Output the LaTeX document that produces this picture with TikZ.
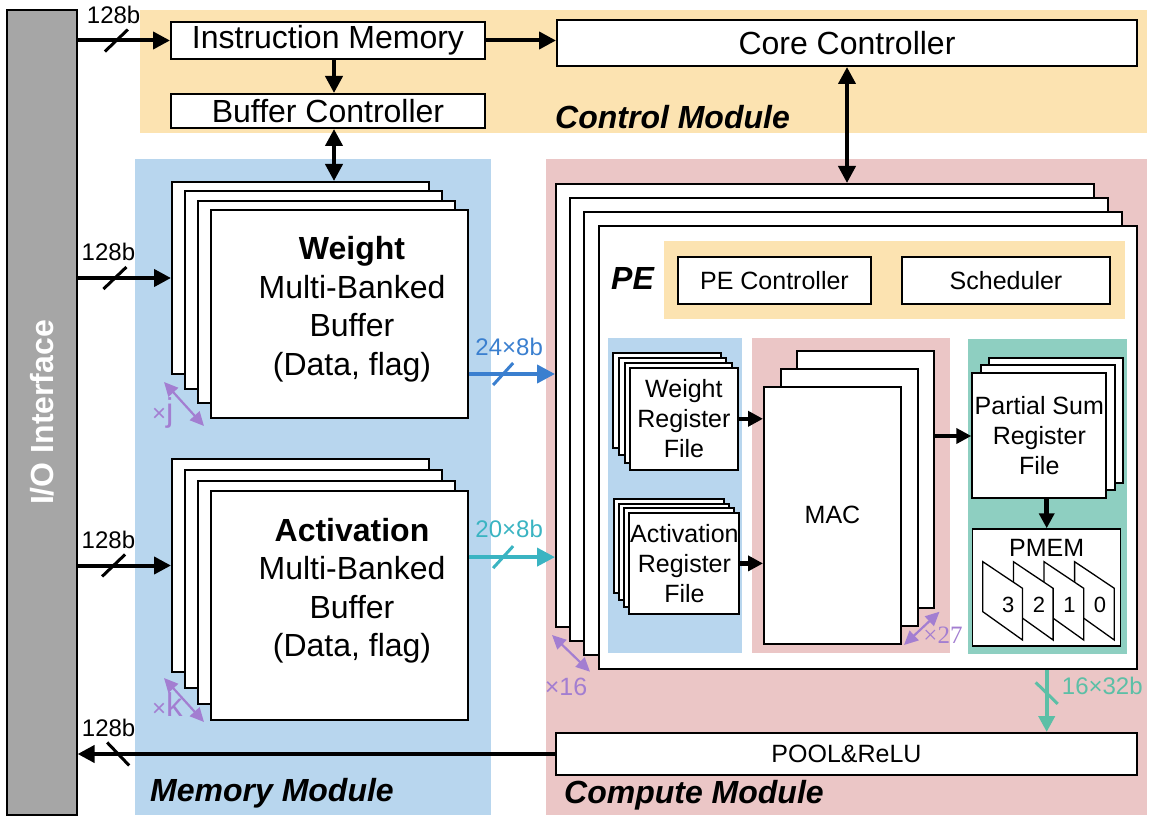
\documentclass[tikz,border=0pt]{standalone}
\usepackage{fontspec}
\setmainfont{Liberation Sans}
\newfontfamily\timesfont{Liberation Serif}
\usetikzlibrary{arrows.meta}

\definecolor{ctrlbg}{HTML}{FCE3B1}
\definecolor{membg}{HTML}{B8D6EE}
\definecolor{compbg}{HTML}{EBC6C6}
\definecolor{tealbg}{HTML}{8ECFC1}
\definecolor{iogray}{HTML}{A6A6A6}
\definecolor{multpurple}{HTML}{A37ED1}
\definecolor{busblue}{HTML}{3A7FCF}
\definecolor{busteal}{HTML}{3AB4C2}
\definecolor{busgreen}{HTML}{5CBFA6}

\tikzset{
  box/.style={draw, line width=2pt, fill=white, inner sep=0pt},
  bigtext/.style={font=\fontsize{32}{38.5}\selectfont},
  smalltext/.style={font=\fontsize{25}{30}\selectfont},
  modlabel/.style={font=\bfseries\itshape\fontsize{32}{38}\selectfont, inner sep=0pt},
  buslabel/.style={font=\fontsize{24}{28}\selectfont, inner sep=0pt},
  bus/.style={line width=4pt, -{Triangle[length=17pt,width=17pt]}},
  dbus/.style={line width=4pt, {Triangle[length=17pt,width=17pt]}-{Triangle[length=17pt,width=17pt]}},
  ibus/.style={line width=4.5pt, -{Triangle[length=15pt,width=15pt]}},
  slashline/.style={line width=3pt},
  mult/.style={draw=multpurple, line width=2.2pt, {Triangle[length=14pt,width=13pt]}-{Triangle[length=14pt,width=13pt]}},
  multlabel/.style={text=multpurple, font=\fontsize{24}{28}\selectfont, inner sep=0pt}
}

\begin{document}
\begin{tikzpicture}[x=1pt, y=-1pt]
    \useasboundingbox (0,0) rectangle (1156,826);

    % module backgrounds
    \fill[ctrlbg] (140,10) rectangle (1147,133);
    \fill[membg] (135,159) rectangle (491,815);
    \fill[compbg] (546,159) rectangle (1147,815);

    % I/O interface
    \node[draw, line width=1.2pt, fill=iogray, minimum width=70, minimum height=805, inner sep=0pt] (io) at (42,412.5) {};
    \node[rotate=90, text=white, font=\bfseries\fontsize{32}{38}\selectfont] at (io) {I/O Interface};

    % control module
    \node[box, bigtext, minimum width=314, minimum height=37] (im) at (328,40.5) {Instruction Memory};
    \node[box, bigtext, minimum width=314, minimum height=34] (bc) at (328,111) {Buffer Controller};
    \node[box, bigtext, minimum width=580, minimum height=46] (cc) at (847,43) {Core Controller};
    \node[modlabel, anchor=west] at (555,117) {Control Module};

    % memory module
    \foreach \i in {0,...,3}
      \node[box, minimum width=257, minimum height={192+5.2*\i}] (w\i) at ({300.5+12.85*\i},{278+11.9*\i}) {};
    \node[bigtext, align=center] at (352,309) {\textbf{Weight}\\Multi-Banked\\Buffer\\(Data, flag)};
    \foreach \i in {0,...,3}
      \node[box, minimum width=257, minimum height={213+5.3*\i}] (a\i) at ({300.5+12.85*\i},{565.5+13.4*\i}) {};
    \node[bigtext, align=center] at (352,590.5) {\textbf{Activation}\\Multi-Banked\\Buffer\\(Data, flag)};
    \node[modlabel, anchor=west] at (150,793) {Memory Module};

    % compute module: PE array
    \foreach \i in {0,...,3}
      \node[box, minimum width=538, minimum height=443] (pe\i) at ({825+14.2*\i},{405.5+14.1*\i}) {};
    \fill[ctrlbg] (664,241) rectangle (1125,319);
    \node[modlabel] at (632.5,278) {PE};
    \node[box, smalltext, minimum width=193, minimum height=47] (pec) at (774.5,280.5) {PE Controller};
    \node[box, smalltext, minimum width=208, minimum height=47] (sch) at (1006,280.5) {Scheduler};
    \fill[membg] (608,338) rectangle (741.6,653);
    \fill[compbg] (752,338) rectangle (950,653);
    \fill[tealbg] (968,339) rectangle (1127,654);

    % register files
    \foreach \i in {0,1,2}
      \node[box, minimum width=107.5, minimum height={95+2.4*\i}] (wr\i) at ({667.1+5.6*\i},{400.5+6.1*\i}) {};
    \node[box, smalltext, align=center, minimum width=107.5, minimum height=102.2] (wr3) at (683.9,418.8) {Weight\\Register\\File};
    \foreach \i in {0,1,2}
      \node[box, minimum width=110, minimum height={94+2.6*\i}] (ar\i) at ({668.5+5.3*\i},{546.3+5.7*\i}) {};
    \node[box, smalltext, align=center, minimum width=110, minimum height=101.8] (ar3) at (684.4,563.4) {Activation\\Register\\File};

    % MAC
    \foreach \i in {0,1}
      \node[box, minimum width=137, minimum height=257] (mac\i) at ({865.5-16.5*\i},{479.2+18*\i}) {};
    \node[box, smalltext, minimum width=137, minimum height=257] (mac2) at (832.5,515.2) {MAC};

    % partial sums
    \foreach \i in {0,1}
      \node[box, minimum width=134, minimum height=125] (ps\i) at ({1056.3-8.5*\i},{420.2+7.6*\i}) {};
    \node[box, smalltext, align=center, minimum width=134, minimum height=125] (ps2) at (1039.3,435.4) {Partial Sum\\Register\\File};

    % PMEM
    \node[box, line width=1.5pt, minimum width=148, minimum height=117] (pmem) at (1046.7,587.5) {};
    \node[smalltext] at (1046.7,548) {PMEM};
    \foreach \k/\d in {3/0,2/1,1/2,0/3} {
      \draw[line width=1.3pt, fill=white] ({982.8+30.6*\k},561.7) -- ++(39.7,26.6) -- ++(0,51.7) -- ++(-39.7,-28.3) -- cycle;
      \node[font=\fontsize{22}{26}\selectfont] at ({1008.3+30.6*\k},605) {\d};
    }

    % pooling
    \node[box, smalltext, minimum width=581, minimum height=42] (pool) at (846.5,754) {POOL\&ReLU};
    \node[modlabel, anchor=west] at (564,795) {Compute Module};

    % connectors
    \draw[bus] (io.east |- im.west) -- coordinate[pos=0.42] (s1) node[buslabel, above=15pt, pos=0.39] {128b} (im.west);
    \draw[slashline] (s1) +(-11.5,11) -- +(11.5,-11);
    \draw[bus] (io.east |- w0.west) -- coordinate[pos=0.4] (s2) node[buslabel, above=15pt, pos=0.33] {128b} (w0.west);
    \draw[slashline] (s2) +(-11.5,11) -- +(11.5,-11);
    \draw[bus] (io.east |- a0.west) -- coordinate[pos=0.385] (s3) node[buslabel, above=15pt, pos=0.33] {128b} (a0.west);
    \draw[slashline] (s3) +(-11.5,11) -- +(11.5,-11);
    \draw[bus] (pool.west) -- coordinate[pos=0.915] (s4) node[buslabel, above=15pt, pos=0.935] {128b} (pool.west -| io.east);
    \draw[slashline] (s4) +(-11,-11.5) -- +(11,11.5);

    \draw[bus] (im.east) -- (im.east -| cc.west);
    \draw[bus] ([xshift=6pt]im.south) -- ([xshift=6pt]bc.north);
    \draw[dbus] ([xshift=6pt]bc.south) -- ([xshift=6pt]bc.south |- w0.north);
    \draw[dbus] (cc.south) -- (cc.south |- pe0.north);

    \draw[bus, busblue, -{Triangle[length=18pt,width=18pt]}] ([yshift=-60.3pt]w3.east) -- coordinate[pos=0.4] (s5) node[buslabel, above=16pt, pos=0.47, text=busblue] {24×8b} ([yshift=-60.3pt]w3.east -| pe0.west);
    \draw[slashline, busblue] (s5) +(-10,11) -- +(10,-11);
    \draw[bus, busteal, -{Triangle[length=18pt,width=18pt]}] ([yshift=48.6pt]a3.east) -- coordinate[pos=0.4] (s6) node[buslabel, above=17pt, pos=0.47, text=busteal] {20×8b} ([yshift=48.6pt]a3.east -| pe0.west);
    \draw[slashline, busteal] (s6) +(-10,11) -- +(10,-11);
    \draw[bus, busgreen, -{Triangle[length=16pt,width=16pt]}] (pmem.south |- pe3.south) -- coordinate[pos=0.37] (s7) (pmem.south |- pool.north);
    \draw[slashline, busgreen] (s7) +(-11,-10.7) -- +(11,10.7);
    \node[buslabel, text=busgreen, anchor=west] at ([xshift=15pt,yshift=7pt]s7) {16×32b};

    \draw[ibus] (wr3.east) -- (wr3.east -| mac2.west);
    \draw[ibus] (ar3.east) -- (ar3.east -| mac2.west);
    \draw[ibus] ([yshift=43.2pt]mac0.east) -- ([yshift=43.2pt]mac0.east -| ps2.west);
    \draw[ibus] (pmem.north |- ps2.south) -- (pmem.north);

    % multiplicity marks
    \draw[mult] (164,382) -- (204,426);
    \node[multlabel, anchor=base west] at (152,421) {×{\fontsize{33}{33}\selectfont j}};
    \draw[mult] (164,678) -- (204,722);
    \node[multlabel, anchor=base west] at (152,716.5) {×{\fontsize{33}{33}\selectfont k}};
    \draw[mult] (552,635) -- (590,671.7);
    \node[multlabel, font=\fontsize{25}{28}\selectfont] at (566,687) {×16};
    \draw[mult] (904,645) -- (939.5,611.7);
    \node[multlabel, font=\timesfont\fontsize{25}{28}\selectfont] at (943,635) {×27};
\end{tikzpicture}
\end{document}
